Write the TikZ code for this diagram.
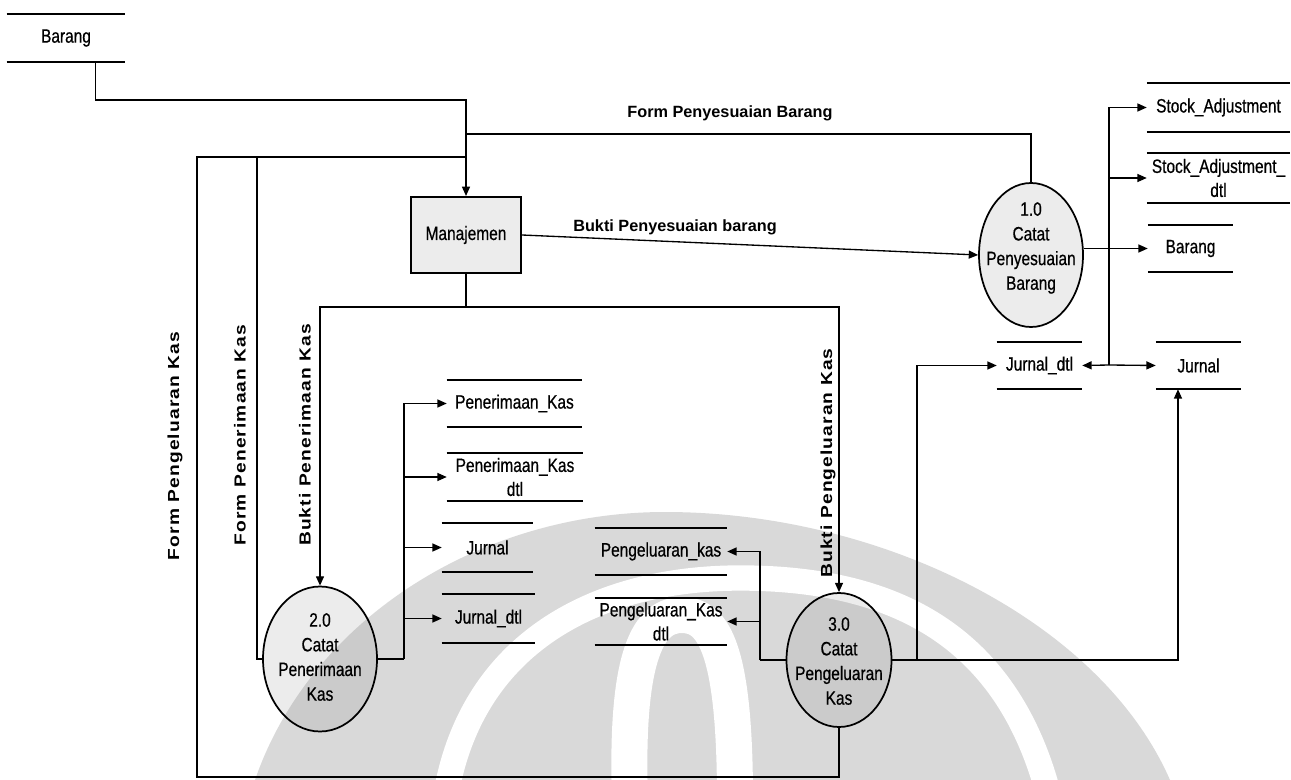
\documentclass[tikz,border=0pt]{standalone}
\usepackage{fontspec}
\setmainfont{Liberation Sans}
\newfontfamily\condfont{Liberation Sans}[FakeStretch=0.8,FakeBold=0.6]
\newfontfamily\spacedfont{Liberation Sans}[FakeStretch=1.2,LetterSpace=7]
\usetikzlibrary{arrows.meta,shapes.geometric,calc}

\newcommand\storelines[1]{%
  \draw[storeline] (#1.north west) -- (#1.north east) (#1.south west) -- (#1.south east);}

\begin{document}
\begin{tikzpicture}[x=0.75pt,y=-0.75pt,
  proc/.style={ellipse, draw, line width=1.3pt, fill=gray, fill opacity=0.15,
    text opacity=1, inner sep=0pt},
  proctext/.style={inner sep=0pt, align=center,
    font=\condfont\fontsize{14.5}{18.5}\selectfont},
  entity/.style={rectangle, draw, line width=1.5pt, fill=gray!15, inner sep=0pt,
    font=\condfont\fontsize{14.5}{18}\selectfont},
  store/.style={inner sep=0pt, align=center,
    font=\condfont\fontsize{14.5}{18}\selectfont},
  storeline/.style={line width=1.3pt},
  link/.style={line width=1pt},
  flow/.style={line width=1pt, -{Triangle[length=7pt,width=6pt]}},
  hlab/.style={inner sep=0pt, font=\bfseries\fontsize{12.2}{14}\selectfont},
  vlab/.style={inner sep=0pt, rotate=90, font=\spacedfont\bfseries\fontsize{12}{14}\selectfont},
  wmark/.style={fill=gray!30}
]
\useasboundingbox (0,0) rectangle (1291,780);

% faint background emblem
\begin{scope}
  \clip (0,0) rectangle (1291,780);
  \fill[wmark] (255,780) .. controls (310,620) and (480,512) .. (665,512)
     .. controls (880,512) and (1100,620) .. (1170,780) -- cycle;
  \draw[white, line width=19pt] (445,800) .. controls (470,640) and (600,578) .. (740,578)
     .. controls (900,578) and (1010,640) .. (1050,800);
  \draw[white, line width=27pt] (630,800) .. controls (625,650) and (650,615) .. (682,615)
     .. controls (714,615) and (735,650) .. (735,800);
\end{scope}

% external entity
\node[entity, minimum width=82.5pt, minimum height=57pt] (mgr) at (466,235) {Manajemen};

% processes
\node[proc, minimum width=78pt, minimum height=108pt] (p1) at (1031,255) {};
\node[proctext] (p1t) at (1031,248) {1.0\\Catat\\Penyesuaian\\Barang};
\node[proc, minimum width=85.5pt, minimum height=108.75pt] (p2) at (320,659) {};
\node[proctext] (p2t) at (320,657) {2.0\\Catat\\Penerimaan\\Kas};
\node[proc, minimum width=78.75pt, minimum height=100.5pt] (p3) at (839,660) {};
\node[proctext] (p3t) at (839,661) {3.0\\Catat\\Pengeluaran\\Kas};

% data stores
\node[store, minimum width=88.5pt,  minimum height=36pt]    (sb1)  at (66,38)      {Barang};
\node[store, minimum width=107.25pt, minimum height=36.75pt] (ssa)  at (1218.5,107.5) {Stock\_Adjustment};
\node[store, minimum width=107.25pt, minimum height=37.5pt] (ssad) at (1218.5,178)  {Stock\_Adjustment\_\\dtl};
\node[store, minimum width=63.75pt, minimum height=35.25pt] (sbr2) at (1190.5,248.5) {Barang};
\node[store, minimum width=63.75pt, minimum height=35.25pt] (sjd2) at (1039.5,365.5) {Jurnal\_dtl};
\node[store, minimum width=63.75pt, minimum height=35.25pt] (sj2)  at (1198.5,365.5) {Jurnal};
\node[store, minimum width=101.25pt, minimum height=35.25pt] (spen) at (514.5,403.5) {Penerimaan\_Kas};
\node[store, minimum width=102pt,   minimum height=36pt]    (spend) at (515,477)    {Penerimaan\_Kas\\dtl};
\node[store, minimum width=68.25pt, minimum height=36.75pt] (sj1)  at (487.5,547.5) {Jurnal};
\node[store, minimum width=69.75pt, minimum height=36.75pt] (sjd1) at (488.5,618.5) {Jurnal\_dtl};
\node[store, minimum width=99pt,    minimum height=35.25pt] (spk)  at (661,551.5)  {Pengeluaran\_kas};
\node[store, minimum width=99pt,    minimum height=35.25pt] (spkd) at (661,621.5)  {Pengeluaran\_Kas\\dtl};
\foreach \s in {sb1,ssa,ssad,sbr2,sjd2,sj2,spen,spend,sj1,sjd1,spk,spkd}{\storelines{\s}}

% junction points
\coordinate (jA) at (466,100);
\coordinate (jB) at (466,134);
\coordinate (jC) at (466,157);
\coordinate (jD) at (466,307);
\coordinate (fl) at (197,777);
\coordinate (fo) at (197,157);
\coordinate (fi) at (257,157);
\coordinate (tp1) at (1109,365);
\coordinate (tp2) at (404,659);
\coordinate (tp3) at (760,660);
\coordinate (rp3) at (917,660);

% flows into Manajemen
\draw[flow] ($(sb1.south west)!0.75!(sb1.south east)$) |- (jA) -- (mgr.north);
\draw[link] (p1.north) |- (jB);
\draw[link] (p3.south) |- (fl) -- (fo) -- (jC);
\draw[link] (p2.west) -| (fi);

% flows out of Manajemen
\draw[flow] (mgr.east) -- (p1.west);
\draw[link] (mgr.south) -- (jD);
\draw[flow] (jD) -| (p2.north);
\draw[flow] (jD) -| (p3.north);

% process 1.0 to its stores
\draw[flow] (p1.east |- sbr2.west) -- (sbr2.west);
\draw[flow] (tp1) |- (ssa.west);
\draw[flow] (tp1 |- ssad.west) -- (ssad.west);
\draw[flow] (tp1) -- (sjd2.east);
\draw[flow] (tp1) -- (sj2.west);

% process 2.0 to its stores
\draw[link] (p2.east) -- (tp2);
\draw[flow] (tp2) |- (spen.west);
\draw[flow] (tp2 |- spend.west) -- (spend.west);
\draw[flow] (tp2 |- sj1.west) -- (sj1.west);
\draw[flow] (tp2 |- sjd1.west) -- (sjd1.west);

% process 3.0 to its stores
\draw[link] (p3.west) -- (tp3);
\draw[flow] (tp3) |- (spk.east);
\draw[flow] (tp3 |- spkd.east) -- (spkd.east);
\draw[link] (p3.east) -- (rp3);
\draw[flow] (rp3) |- (sjd2.west);
\draw[flow] (rp3) -| ($(sj2.south west)!0.26!(sj2.south east)$);

% flow labels
\node[hlab] (lfpb) at (730,113) {Form Penyesuaian Barang};
\node[hlab] (lbpb) at (675,227) {Bukti Penyesuaian barang};
\node[vlab] (lfpk) at (175,446) {Form Pengeluaran Kas};
\node[vlab] (lfrk) at (240,435) {Form Penerimaan Kas};
\node[vlab] (lbrk) at (305,435) {Bukti Penerimaan Kas};
\node[vlab] (lbpk) at (828,463) {Bukti Pengeluaran Kas};
\end{tikzpicture}
\end{document}
